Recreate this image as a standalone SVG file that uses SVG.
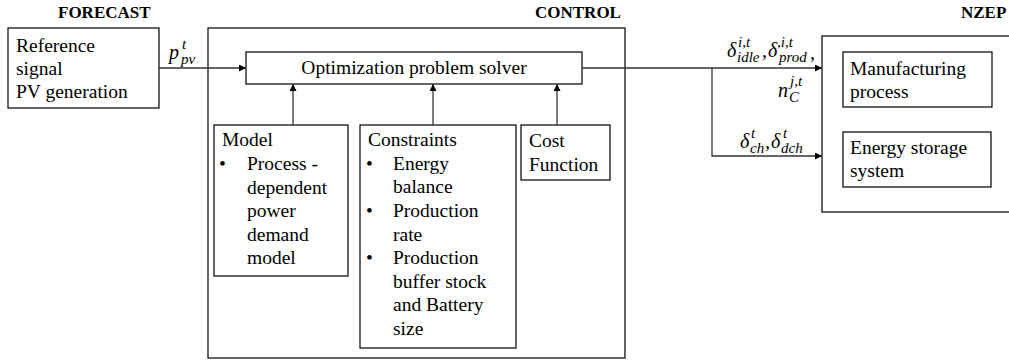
<svg xmlns="http://www.w3.org/2000/svg" width="1009" height="360" viewBox="0 0 1009 360">
<defs>
<style>
.box{fill:#fff;stroke:#000;stroke-width:1.2}
.grp{fill:none;stroke:#000;stroke-width:1.2}
.t{font-size:19.5px;fill:#000}
.h{font-size:17px;font-weight:bold;fill:#000}
.m{font-style:italic;font-size:20px;fill:#000}
.s{font-size:15px}
.c{fill:none;stroke:#333;stroke-width:1.3}
</style>
<marker id="ah" viewBox="0 0 10 10" refX="10" refY="5" markerWidth="7" markerHeight="7" markerUnits="userSpaceOnUse" orient="auto">
<path d="M0,0 L10,5 L0,10 Z" fill="#000"/>
</marker>
</defs>
<rect width="1009" height="360" fill="#fff"/>
<g font-family="'Liberation Serif', Tinos, 'DejaVu Serif', serif">
<g id="titles">
<text class="h" x="58" y="18">FORECAST</text>
<text class="h" x="535" y="18">CONTROL</text>
<text class="h" x="961" y="18">NZEP</text>
</g>

<g id="control-group"><rect class="grp" x="208" y="28" width="417" height="330"/></g>
<g id="nzep-group"><rect class="grp" x="822" y="36" width="200" height="176"/></g>

<g id="forecast">
<rect class="box" x="8" y="28" width="151" height="80"/>
<text class="t" x="16" y="52">Reference</text>
<text class="t" x="16" y="75">signal</text>
<text class="t" x="16" y="98">PV generation</text>
</g>

<g id="solver">
<rect class="box" x="246" y="52" width="336" height="32"/>
<text class="t" x="414" y="74" text-anchor="middle">Optimization problem solver</text>
</g>

<g id="model">
<rect class="box" x="214" y="125" width="134" height="151"/>
<text class="t" x="222" y="146">Model</text>
<text class="t" x="219" y="170">•</text>
<text class="t" x="247" y="170">Process -</text>
<text class="t" x="247" y="194">dependent</text>
<text class="t" x="247" y="217">power</text>
<text class="t" x="247" y="241">demand</text>
<text class="t" x="247" y="264">model</text>
</g>

<g id="constraints">
<rect class="box" x="360" y="125" width="156" height="223"/>
<text class="t" x="368" y="146">Constraints</text>
<text class="t" x="366" y="170">•</text>
<text class="t" x="393" y="170">Energy</text>
<text class="t" x="393" y="193">balance</text>
<text class="t" x="366" y="217">•</text>
<text class="t" x="393" y="217">Production</text>
<text class="t" x="393" y="241">rate</text>
<text class="t" x="366" y="264">•</text>
<text class="t" x="393" y="264">Production</text>
<text class="t" x="393" y="288">buffer stock</text>
<text class="t" x="393" y="311">and Battery</text>
<text class="t" x="393" y="335">size</text>
</g>

<g id="cost">
<rect class="box" x="521" y="125" width="89" height="55"/>
<text class="t" x="529" y="147">Cost</text>
<text class="t" x="529" y="171">Function</text>
</g>

<g id="manufacturing">
<rect class="box" x="843" y="52" width="149" height="55"/>
<text class="t" x="850" y="75">Manufacturing</text>
<text class="t" x="850" y="98">process</text>
</g>

<g id="storage">
<rect class="box" x="843" y="132" width="148" height="55"/>
<text class="t" x="850" y="154">Energy storage</text>
<text class="t" x="850" y="177">system</text>
</g>

<g id="connectors">
<path class="c" d="M159,68 H246" marker-end="url(#ah)"/>
<path class="c" d="M293,125 V84" marker-end="url(#ah)"/>
<path class="c" d="M433,125 V84" marker-end="url(#ah)"/>
<path class="c" d="M557,125 V84" marker-end="url(#ah)"/>
<path class="c" d="M582,68 H822" marker-end="url(#ah)"/>
<path class="c" d="M712,68 V156 H822" marker-end="url(#ah)"/>
</g>

<g id="labels">
<text class="m" x="169" y="59">p<tspan class="s" x="182" y="49">t</tspan><tspan class="s" x="181" y="64">pv</tspan></text>
<text class="m" x="727" y="57">δ<tspan class="s" x="738" y="47">i,t</tspan><tspan class="s" x="737" y="62">idle</tspan><tspan x="762" y="57">,</tspan><tspan x="768" y="57">δ</tspan><tspan class="s" x="777" y="47">,i,t</tspan><tspan class="s" x="779" y="62">prod</tspan><tspan x="810" y="59">,</tspan></text>
<text class="m" x="778" y="97">n<tspan class="s" x="790" y="86">j,t</tspan><tspan class="s" x="789" y="102">C</tspan></text>
<text class="m" x="740" y="148">δ<tspan class="s" x="751" y="138">t</tspan><tspan class="s" x="750" y="153">ch</tspan><tspan x="765" y="148">,</tspan><tspan x="771" y="148">δ</tspan><tspan class="s" x="783" y="138">t</tspan><tspan class="s" x="781" y="153">dch</tspan></text>
</g>
</g>
</svg>
